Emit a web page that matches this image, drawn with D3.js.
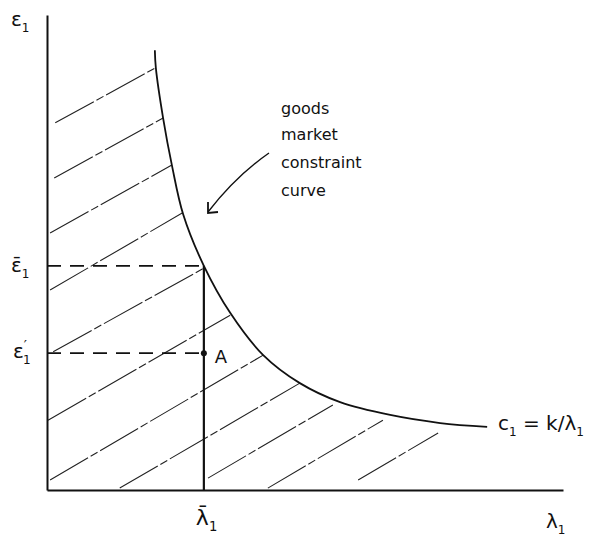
<!DOCTYPE html>
<html>
<head>
<meta charset="utf-8">
<script src="https://cdn.jsdelivr.net/npm/d3@7"></script>
<style>
  body { margin: 0; background: #fff; }
  text { font-family: "DejaVu Sans", sans-serif; fill: #111; }
</style>
</head>
<body>
<div id="chart"></div>
<script>
// goods market constraint curve c1 = k / lambda1 (arbitrary units)
var curveLambda = [2.09, 2.11, 2.25, 2.42, 2.64, 3.04, 3.55, 4.19, 4.90, 5.68, 6.65, 7.62, 8.53];
var curveC      = [9.26, 8.88, 7.83, 6.84, 5.80, 4.72, 3.73, 2.84, 2.25, 1.85, 1.58, 1.41, 1.33];

// marked values
var lambdaBar = 3.04;
var cBar = 4.72;
var cPrime = 2.88;

// hatch strokes of the feasible region: start and end points [lambda, c]
var hatchFrom = [[0.16, 7.73], [0.14, 6.57], [0.06, 5.41], [0.06, 4.21], [0.12, 2.91], [0.02, 1.47],
                 [0.06, 0.21], [1.41, 0.04], [3.12, 0.25], [4.28, 0.04], [6.03, 0.21]];
var hatchTo   = [[2.09, 8.88], [2.25, 7.83], [2.42, 6.84], [2.62, 5.83], [3.04, 4.67], [3.55, 3.68],
                 [4.19, 2.84], [4.90, 2.25], [5.54, 1.79], [6.51, 1.47], [7.58, 1.20]];

var annotation = ["goods", "market", "constraint", "curve"];

var width = 606, height = 539;
var svg = d3.select("#chart").append("svg")
    .attr("width", width)
    .attr("height", height);

var x = d3.scaleLinear().domain([0, 10]).range([47, 563]);
var y = d3.scaleLinear().domain([0, 10]).range([490, 15]);

// hatching
svg.append("g")
    .selectAll("line")
    .data(hatchFrom)
    .enter()
    .append("line")
    .attr("x1", function (d) { return x(d[0]); })
    .attr("y1", function (d) { return y(d[1]); })
    .attr("x2", function (d, i) { return x(hatchTo[i][0]); })
    .attr("y2", function (d, i) { return y(hatchTo[i][1]); })
    .attr("stroke", "#222")
    .attr("stroke-width", 1.1)
    .attr("stroke-dasharray", "44,3,8,3");

// axes, no ticks
svg.append("g")
    .attr("transform", "translate(0," + y(0) + ")")
    .call(d3.axisBottom(x).tickValues([]).tickSizeOuter(0))
    .select(".domain").attr("stroke", "#111").attr("stroke-width", 2.2);
svg.append("g")
    .attr("transform", "translate(" + x(0) + ",0)")
    .call(d3.axisLeft(y).tickValues([]).tickSizeOuter(0))
    .select(".domain").attr("stroke", "#111").attr("stroke-width", 2);

// dashed guides
[cBar, cPrime].forEach(function (v) {
    svg.append("line")
        .attr("x1", x(0)).attr("x2", x(lambdaBar))
        .attr("y1", y(v)).attr("y2", y(v))
        .attr("stroke", "#111")
        .attr("stroke-width", 1.8)
        .attr("stroke-dasharray", "14,9");
});

// vertical at lambda bar
svg.append("line")
    .attr("x1", x(lambdaBar)).attr("x2", x(lambdaBar))
    .attr("y1", y(cBar)).attr("y2", y(0))
    .attr("stroke", "#111")
    .attr("stroke-width", 2.2);

// constraint curve
svg.append("path")
    .datum(d3.range(curveLambda.length))
    .attr("fill", "none")
    .attr("stroke", "#111")
    .attr("stroke-width", 1.8)
    .attr("d", d3.line()
        .curve(d3.curveCatmullRom.alpha(0.5))
        .x(function (i) { return x(curveLambda[i]); })
        .y(function (i) { return y(curveC[i]); }));

// point A
svg.append("circle")
    .attr("cx", x(lambdaBar))
    .attr("cy", y(cPrime))
    .attr("r", 3)
    .attr("fill", "#111");
svg.append("text")
    .attr("x", x(lambdaBar) + 11)
    .attr("y", y(cPrime) + 10)
    .style("font-size", "18px")
    .text("A");

// axis labels
function symLabel(px, py, main, sub, size) {
    var t = svg.append("text")
        .attr("x", px)
        .attr("y", py)
        .style("font-size", size + "px");
    t.append("tspan").text(main);
    t.append("tspan")
        .attr("dy", 6)
        .style("font-size", (size * 0.6) + "px")
        .text(sub);
    return t;
}
symLabel(11, 26, "ε", "1", 20);
symLabel(11, 272, "ε\u0304", "1", 20);
symLabel(x(lambdaBar) - 8, 525, "λ\u0304", "1", 22);
symLabel(546, 528, "λ", "1", 20);

// c prime: prime above, subscript below
var cp = svg.append("text")
    .attr("x", 13)
    .attr("y", 358)
    .style("font-size", "20px");
cp.append("tspan").text("ε");
cp.append("tspan").attr("dy", -8).style("font-size", "14px").text("\u2032");
cp.append("tspan").attr("dx", -4).attr("dy", 14).style("font-size", "12px").text("1");

// equation label
var eq = svg.append("text")
    .attr("x", 498)
    .attr("y", 430)
    .style("font-size", "20px");
eq.append("tspan").text("c");
eq.append("tspan").attr("dy", 6).style("font-size", "12px").text("1");
eq.append("tspan").attr("dy", -6).text(" = k/λ");
eq.append("tspan").attr("dy", 6).style("font-size", "12px").text("1");

// annotation with arrow
svg.append("g")
    .selectAll("text")
    .data(annotation)
    .enter()
    .append("text")
    .attr("x", 281)
    .attr("y", function (d, i) { return [114, 140, 168, 196][i]; })
    .style("font-size", "16px")
    .text(function (d) { return d; });

svg.append("path")
    .attr("d", "M269,153 Q236,176 208,212")
    .attr("fill", "none")
    .attr("stroke", "#111")
    .attr("stroke-width", 1.4);
svg.append("path")
    .attr("d", "M208,202 L208,213 L218,212")
    .attr("fill", "none")
    .attr("stroke", "#111")
    .attr("stroke-width", 1.8);
</script>
</body>
</html>
